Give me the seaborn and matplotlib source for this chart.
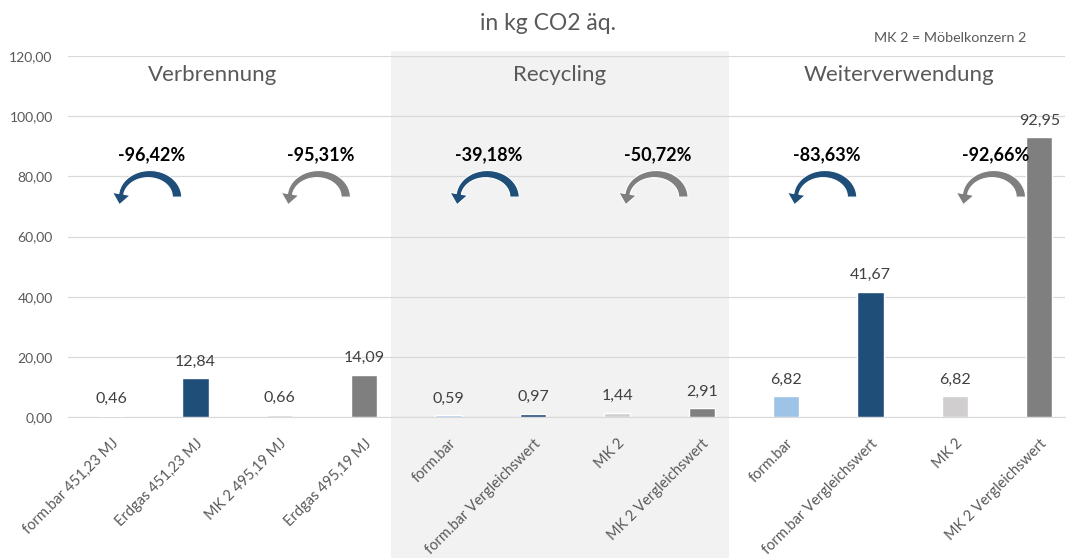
import numpy as np
import pandas as pd
import seaborn as sns
import matplotlib
matplotlib.use("Agg")
from matplotlib import pyplot as plt
from matplotlib.patches import Rectangle, Polygon
from matplotlib.transforms import blended_transform_factory

labels = ["form.bar 451,23 MJ", "Erdgas 451,23 MJ", "MK 2 495,19 MJ", "Erdgas 495,19 MJ",
          "form.bar", "form.bar Vergleichswert", "MK 2", "MK 2 Vergleichswert",
          "form.bar", "form.bar Vergleichswert", "MK 2", "MK 2 Vergleichswert"]
values = [0.46, 12.84, 0.66, 14.09, 0.59, 0.97, 1.44, 2.91, 6.82, 41.67, 6.82, 92.95]
sections = ["Verbrennung", "Recycling", "Weiterverwendung"]
section_x = [1.2, 5.32, 9.34]
changes = ["-96,42%", "-95,31%", "-39,18%", "-50,72%", "-83,63%", "-92,66%"]
yticks = [0, 20, 40, 60, 80, 100, 120]

LIGHT_BLUE = "#9DC3E6"
DARK_BLUE = "#1F4E79"
LIGHT_GREY = "#D0CECE"
DARK_GREY = "#7F7F7F"
bar_colors = [LIGHT_BLUE, DARK_BLUE, LIGHT_GREY, DARK_GREY] * 3
arrow_colors = [DARK_BLUE, DARK_GREY] * 3

sns.set_style("white")
plt.rcParams["font.family"] = ["Lato", "DejaVu Sans"]
TXT = "#595959"

df = pd.DataFrame({"pos": np.arange(len(values)), "value": values})

fig = plt.figure(figsize=(10.71, 5.58), dpi=100)
ax = fig.add_axes([0.0635, 0.2527, 0.9305, 0.6469])

# shaded recycling block, reaching down to the bottom of the figure
trans = blended_transform_factory(ax.transData, fig.transFigure)
fig.patches.append(Rectangle((3.32, 0), 4.0, 0.909, transform=trans,
                             facecolor="#F2F2F2", edgecolor="none", zorder=-1))
ax.patch.set_alpha(0)

sns.barplot(data=df, x="pos", y="value", hue="pos", palette=bar_colors,
            legend=False, width=0.31, ax=ax, zorder=3, saturation=1)

ax.set_xlim(-0.51, 11.3)
ax.set_ylim(0, 120)
ax.set_yticks(yticks)
ax.set_yticklabels([f"{v:.2f}".replace(".", ",") for v in yticks], color=TXT, fontsize=10)
ax.set_xticks(np.arange(len(labels)))
ax.set_xticklabels(labels, rotation=45, ha="right", rotation_mode="anchor",
                   color=TXT, fontsize=10.5)
ax.tick_params(axis="both", length=0)
ax.tick_params(axis="y", pad=11)
ax.tick_params(axis="x", pad=14)
ax.set_xlabel("")
ax.set_ylabel("")
ax.yaxis.grid(True, color="#D9D9D9", lw=0.9, zorder=1)
ax.set_axisbelow(True)
for s in ["top", "right", "left"]:
    ax.spines[s].set_visible(False)
ax.spines["bottom"].set_color("#D9D9D9")

for i, v in enumerate(values):
    ax.annotate(f"{v:.2f}".replace(".", ","), (i, v), xytext=(0, 7),
                textcoords="offset points", ha="center", va="bottom",
                color="#404040", fontsize=11.5, zorder=5)

for name, x in zip(sections, section_x):
    ax.text(x, 113.7, name, ha="center", va="center", fontsize=16, color=TXT)

# pixels per data unit, so the curved arrows can be shaped in pixels
bb = ax.get_window_extent()
sx = bb.width / (ax.get_xlim()[1] - ax.get_xlim()[0])
sy = bb.height / (ax.get_ylim()[1] - ax.get_ylim()[0])


def curved_arrow(cx, cy, color):
    t = np.radians(np.linspace(0, 172, 60))
    rx, ry = 28.0, 23.0
    w = np.linspace(9.5, 5.0, t.size)
    ox, oy = (rx + w / 2) * np.cos(t), (ry + w / 2) * np.sin(t)
    ix, iy = (rx - w / 2) * np.cos(t), (ry - w / 2) * np.sin(t)
    ex, ey = rx * np.cos(t[-1]), ry * np.sin(t[-1])
    tx, ty = -rx * np.sin(t[-1]), ry * np.cos(t[-1])
    n = np.hypot(tx, ty)
    tx, ty = tx / n, ty / n
    nx, ny = -ty, tx
    hw, hl = 9.0, 11.0
    head = [(ex - nx * hw, ey - ny * hw), (ex + tx * hl, ey + ty * hl), (ex + nx * hw, ey + ny * hw)]
    pts = np.array(list(zip(ox, oy)) + head + list(zip(ix[::-1], iy[::-1])))
    verts = np.column_stack([cx + pts[:, 0] / sx, cy + pts[:, 1] / sy])
    ax.add_patch(Polygon(verts, closed=True, facecolor=color, edgecolor="white",
                         lw=0.8, zorder=6))


for k, (lab, col) in enumerate(zip(changes, arrow_colors)):
    i = 2 * k
    cx = i + 0.45
    ax.text(cx + 0.03, 87.2, lab, ha="center", va="center", fontsize=13,
            fontweight="bold", color="black", zorder=6)
    curved_arrow(cx, 73.1, col)

fig.text(0.512, 0.958, "in kg CO2 äq.", ha="center", va="center", fontsize=16.5, color=TXT)
fig.text(0.887, 0.932, "MK 2 = Möbelkonzern 2", ha="center", va="center", fontsize=10.3, color=TXT)

fig.savefig("out.png", dpi=100)
